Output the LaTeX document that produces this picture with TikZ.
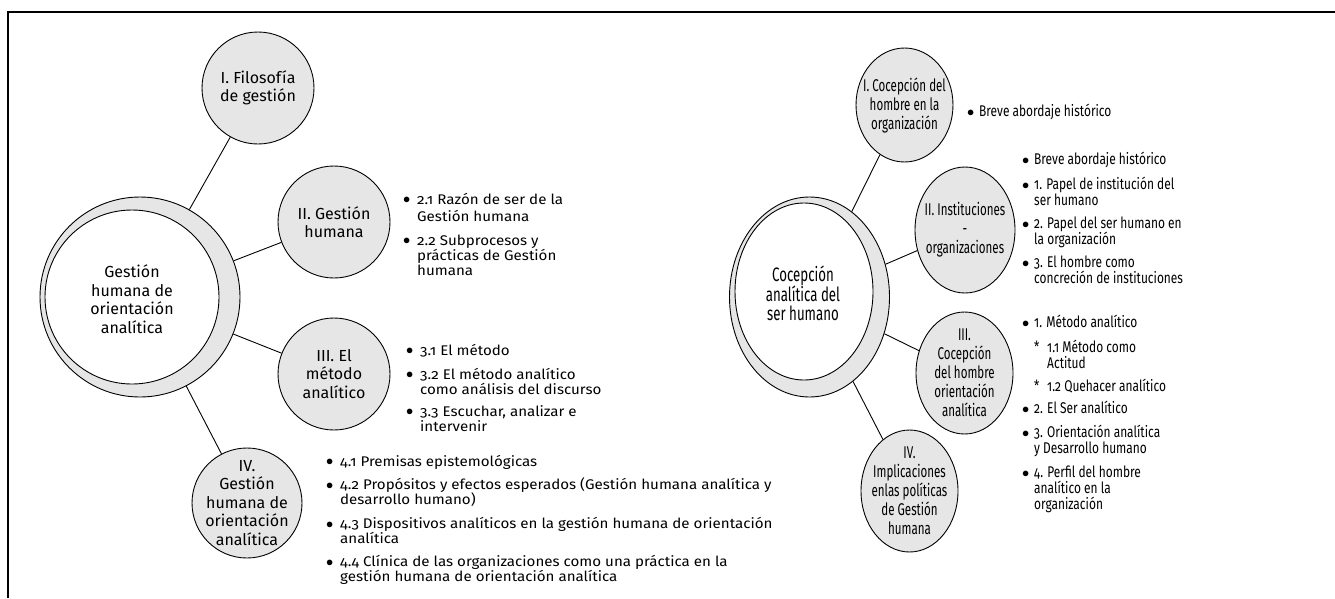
\documentclass[tikz,border=0pt]{standalone}
\usepackage{fontspec}
\setmainfont{Fira Sans}[Numbers=OldStyle]
\newfontfamily\listfont{Fira Sans}[Numbers=OldStyle,FakeStretch=1.08]
\newfontfamily\narrowfont{Fira Sans}[Numbers=OldStyle,FakeStretch=0.68]
\newfontfamily\narrowlist{Fira Sans}[Numbers=OldStyle,FakeStretch=0.77]
\usetikzlibrary{shapes.geometric}

\definecolor{ringgray}{RGB}{230,230,230}

\newcommand{\dotmark}{\raisebox{0.5pt}{$\bullet$}}
\newcommand{\bl}{\makebox[14pt][l]{\dotmark}}
\newcommand{\ind}{\hspace*{14pt}}
\newcommand{\nbl}{\makebox[12pt][l]{\dotmark}}
\newcommand{\nind}{\hspace*{12pt}}
\newcommand{\sbl}{\hspace*{12pt}\makebox[13pt][l]{*}}
\newcommand{\sind}{\hspace*{25pt}}

\tikzset{
  ring/.style={circle, draw, fill=ringgray, line width=0.9pt, inner sep=0pt},
  hole/.style={circle, draw, fill=white, line width=0.9pt, inner sep=0pt},
  oval/.style={ellipse, draw, fill=ringgray, line width=0.9pt, inner sep=0pt},
  holeoval/.style={ellipse, draw, fill=white, line width=0.9pt, inner sep=0pt},
  ctext/.style={align=center, inner sep=0pt, font=\fontsize{16}{18.5}\selectfont},
  ntext/.style={align=center, inner sep=0pt, font=\narrowfont\fontsize{17}{19}\selectfont},
  lst/.style={align=left, inner sep=0pt, anchor=north west, font=\listfont\fontsize{14}{15}\selectfont},
  nlst/.style={align=left, inner sep=0pt, anchor=north west, font=\narrowlist\fontsize{15.5}{16}\selectfont},
  link/.style={line width=0.9pt}
}

\begin{document}
\begin{tikzpicture}[x=1pt, y=-1pt]
  \useasboundingbox (0,0) rectangle (1335,598);
  \draw[line width=1.6pt] (8,598) -- (8,12) -- (1335,12);

  % left map
  \node[ring, minimum size=200pt] (gl) at (140,297) {};
  \node[hole, minimum size=174pt] (gli) at (132,297) {};
  \node[ctext] (glt) at (132,299) {Gestión\\humana de\\orientación\\analítica};

  \node[ring, minimum size=112pt] (g1) at (258,88) {};
  \node[ring, minimum size=112pt] (g2) at (334,222) {};
  \node[ring, minimum size=112pt] (g3) at (334,374) {};
  \node[ring, minimum size=110pt] (g4) at (247,503) {};
  \node[ctext] (g1t) at (g1) {I. Filosofía\\de gestión};
  \node[ctext] (g2t) at (g2) {II. Gestión\\humana};
  \node[ctext] (g3t) at (g3) {III. El\\método\\analítico};
  \node[ctext] (g4t) at (g4) {IV.\\Gestión\\humana de\\orientación\\analítica};
  \foreach \s in {g1,g2,g3,g4}
    \draw[link] (gl) -- (\s);

  \node[lst] (g2l) at (403,193) {\strut\bl 2.1 Razón de ser de la\\ \ind Gestión humana\\[9pt]
    \bl 2.2 Subprocesos y\\ \ind prácticas de Gestión\\ \ind humana};
  \node[lst] (g3l) at (406,344) {\strut\bl 3.1 El método\\[7pt]
    \bl 3.2 El método analítico\\ \ind como análisis del discurso\\[7pt]
    \bl 3.3 Escuchar, analizar e\\ \ind intervenir};
  \node[lst] (g4l) at (326,455) {\strut\bl 4.1 Premisas epistemológicas\\[6pt]
    \bl 4.2 Propósitos y efectos esperados (Gestión humana analítica y\\ \ind desarrollo humano)\\[9pt]
    \bl 4.3 Dispositivos analíticos en la gestión humana de orientación\\ \ind analítica\\[8pt]
    \bl 4.4 Clínica de las organizaciones como una práctica en la\\ \ind gestión humana de orientación analítica};

  % right map
  \node[oval, minimum width=160pt, minimum height=200pt] (cl) at (809.5,297) {};
  \node[holeoval, minimum width=138pt, minimum height=177pt] (cli) at (804,291.5) {};
  \node[ntext, font=\narrowfont\fontsize{19.5}{18.5}\selectfont] (clt) at (803,293) {Cocepción\\analítica del\\ser humano};

  \node[oval, minimum width=97pt, minimum height=114pt] (c1) at (904.5,105) {};
  \node[oval, minimum width=100pt, minimum height=126pt] (c2) at (965,230) {};
  \node[oval, minimum width=97pt, minimum height=122pt] (c3) at (964.5,373) {};
  \node[oval, minimum width=97pt, minimum height=122pt] (c4) at (909.5,491) {};
  \node[ntext] (c1t) at (c1) {I. Cocepción del\\hombre en la\\organización};
  \node[ntext] (c2t) at (c2) {II. Instituciones\\-\\organizaciones};
  \node[ntext] (c3t) at (c3) {III.\\Cocepción\\del hombre\\orientación\\analítica};
  \node[ntext] (c4t) at (c4) {IV.\\Implicaciones\\enlas políticas\\de Gestión\\humana};
  \foreach \s in {c1,c2,c3,c4}
    \draw[link] (cl) -- (\s);

  \node[nlst] (c1l) at (967,104) {\strut\nbl Breve abordaje histórico};
  \node[nlst] (c2l) at (1022,152) {\strut\nbl Breve abordaje histórico\\[7pt]
    \nbl 1. Papel de institución del\\ \nind ser humano\\[7pt]
    \nbl 2. Papel del ser humano en\\ \nind la organización\\[7pt]
    \nbl 3. El hombre como\\ \nind concreción de instituciones};
  \node[nlst] (c3l) at (1022,315) {\strut\nbl 1. Método analítico\\[7pt]
    \sbl 1.1 Método como\\ \sind Actitud\\[7pt]
    \sbl 1.2 Quehacer analítico\\[6pt]
    \nbl 2. El Ser analítico\\[8pt]
    \nbl 3. Orientación analítica\\ \nind y Desarrollo humano\\[8pt]
    \nbl 4. Perfil del hombre\\ \nind analítico en la\\ \nind organización};
\end{tikzpicture}
\end{document}
